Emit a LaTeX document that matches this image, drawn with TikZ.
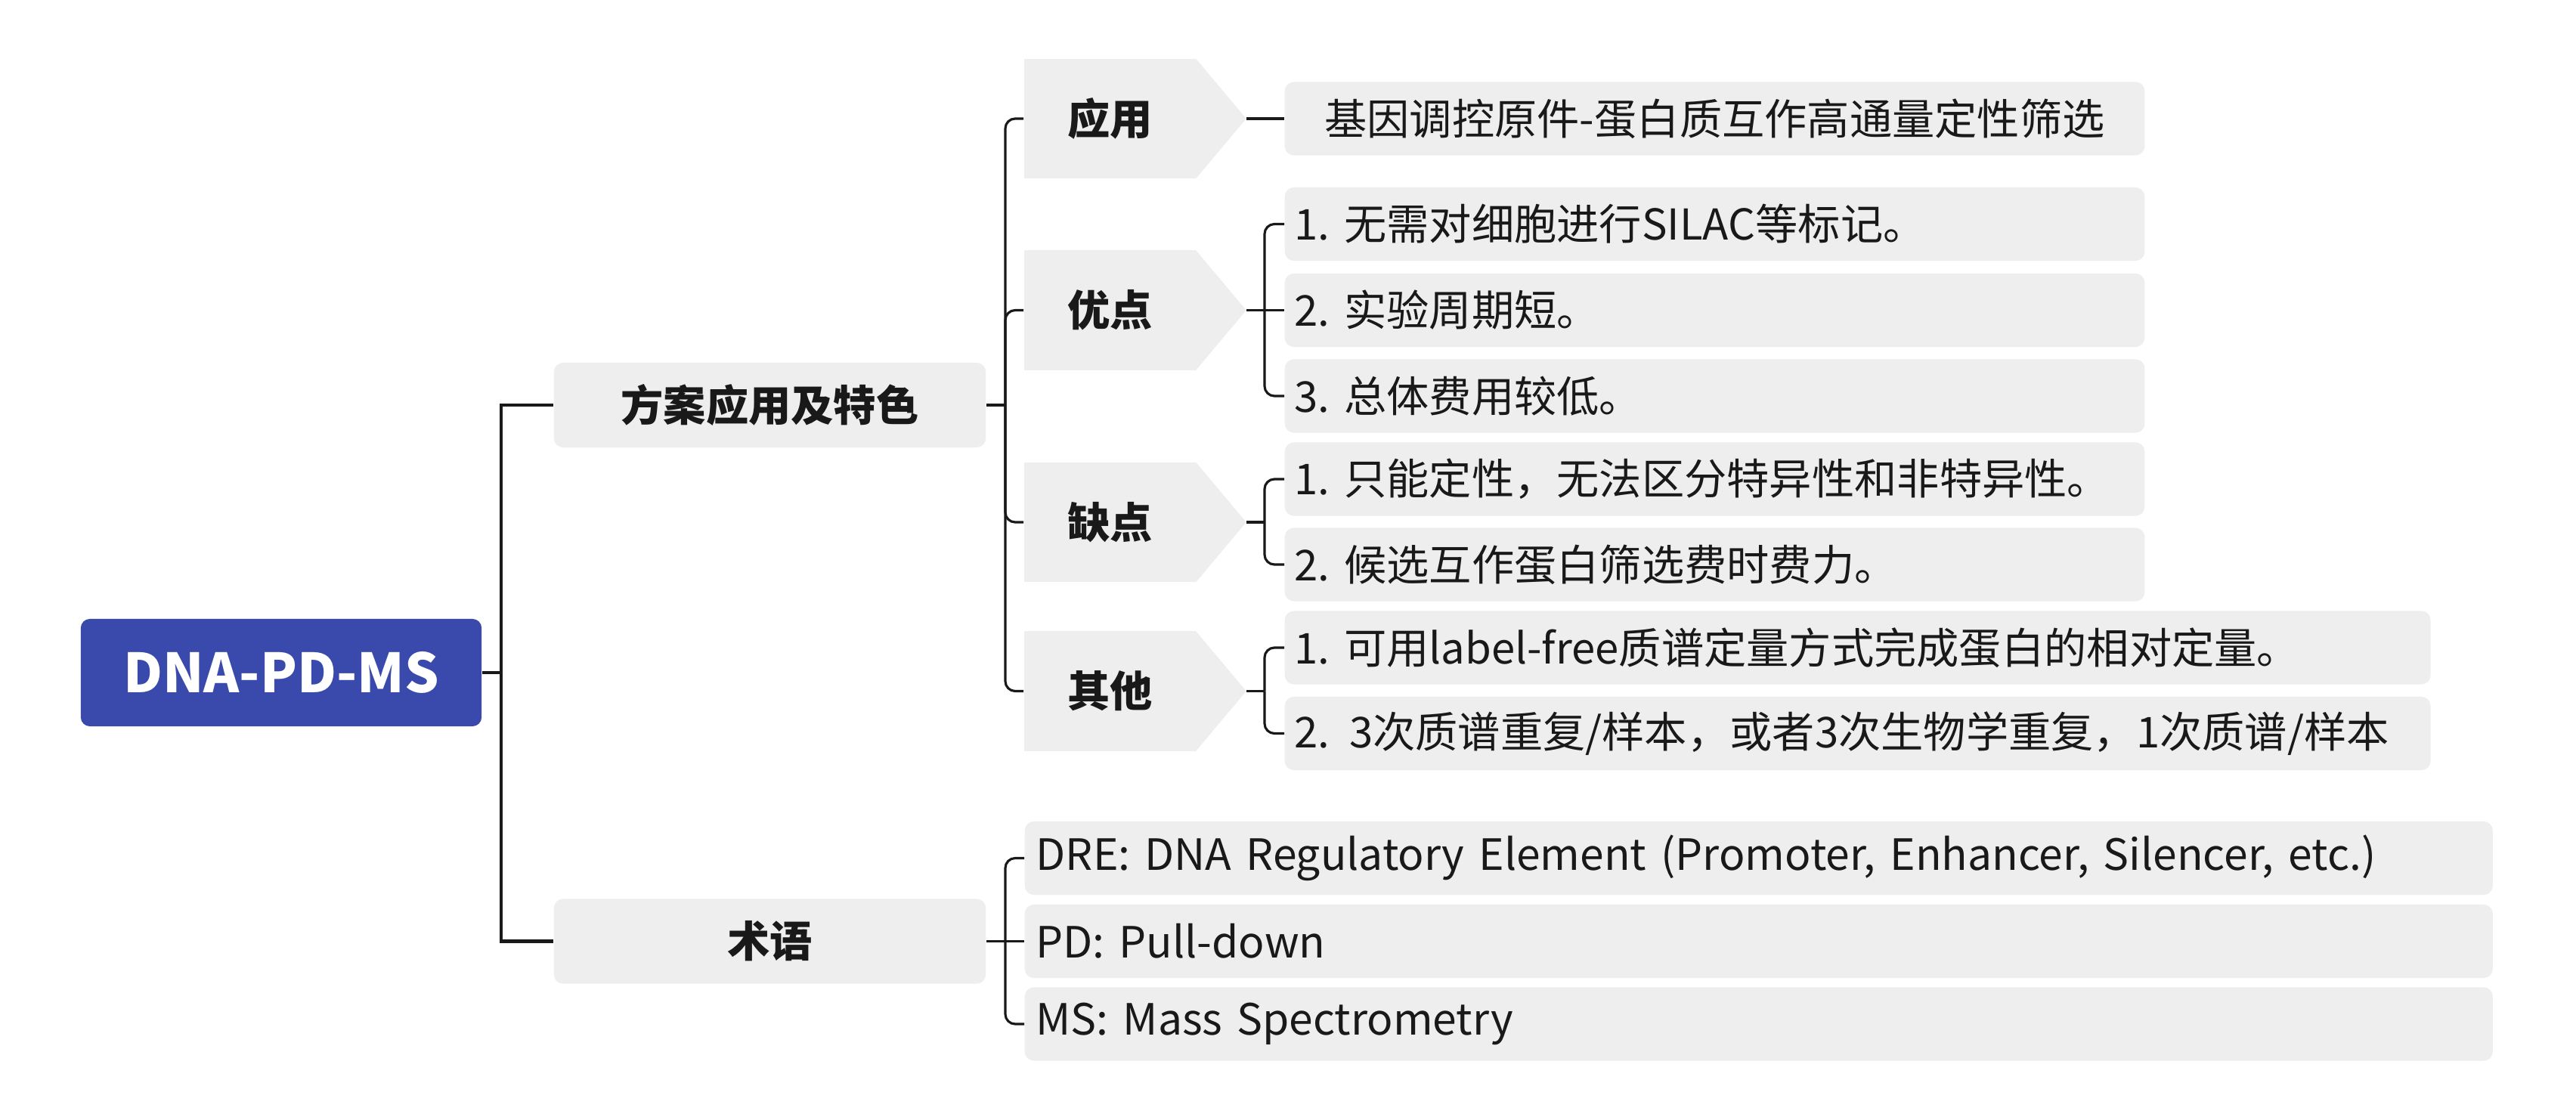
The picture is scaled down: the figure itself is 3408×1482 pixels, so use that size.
\documentclass[tikz,border=0pt]{standalone}
\usepackage{fontspec}
\setmainfont{Noto Sans CJK SC}
\usetikzlibrary{calc}
\definecolor{rootblue}{RGB}{58,74,172}
\definecolor{boxgray}{RGB}{238,238,238}
\definecolor{ink}{RGB}{25,25,25}
\frenchspacing
\begin{document}
\begin{tikzpicture}[x=0.01cm,y=-0.01cm,
  rootbox/.style={fill=rootblue, rounded corners=0.12cm, text=white, font=\fontsize{20.3pt}{24pt}\selectfont\bfseries, minimum width=5.30cm, minimum height=1.42cm, inner sep=0pt},
  mainbox/.style={fill=boxgray, rounded corners=0.12cm, text=ink, font=\fontsize{16pt}{19pt}\selectfont\bfseries, minimum width=5.71cm, minimum height=1.12cm, inner sep=0pt},
  tagbox/.style={fill=boxgray, text=ink, font=\fontsize{16pt}{19pt}\selectfont\bfseries, minimum width=2.27cm, minimum height=1.58cm, inner sep=0pt},
  leafbox/.style={fill=boxgray, rounded corners=0.12cm, text=ink, font=\fontsize{16pt}{19pt}\selectfont\frenchspacing, minimum height=0.97cm, inner xsep=0.13cm, inner ysep=0pt, align=left, anchor=west},
  rootline/.style={line width=1.4pt, draw=ink},
  branch/.style={line width=0.9pt, draw=ink, rounded corners=0.13cm},
]
\useasboundingbox (0,0) rectangle (3408,1482);
\fill[white] (0,0) rectangle (3408,1482);

% root and main branches
\node[rootbox] (root) at (372,890) {DNA-PD-MS};
\node[mainbox] (plan) at (1018.5,536) {方案应用及特色};
\node[mainbox] (term) at (1018.5,1245.5) {术语};

% tag (arrow) nodes
\node[tagbox] (app) at (1468.5,157) {应用};
\node[tagbox] (adv) at (1468.5,410.5) {优点};
\node[tagbox] (dis) at (1468.5,691) {缺点};
\node[tagbox] (oth) at (1468.5,914.5) {其他};
\foreach \t in {app,adv,dis,oth}{
  \fill[boxgray] ($(\t.north east)+(-1,0)$) -- ($(\t.east)+(66,0)$) -- ($(\t.south east)+(-1,0)$) -- cycle;
  \coordinate (\t-tip) at ($(\t.east)+(66,0)$);
}

% leaves
\node[leafbox, text width=11.11cm, align=center] (app1) at (1699,157) {基因调控原件-蛋白质互作高通量定性筛选};
\node[leafbox, text width=11.11cm] (adv1) at (1699,296.5) {1. 无需对细胞进行SILAC等标记。};
\node[leafbox, text width=11.11cm] (adv2) at (1699,410.5) {2. 实验周期短。};
\node[leafbox, text width=11.11cm] (adv3) at (1699,524) {3. 总体费用较低。};
\node[leafbox, text width=11.11cm] (dis1) at (1699,634) {1. 只能定性，无法区分特异性和非特异性。};
\node[leafbox, text width=11.11cm] (dis2) at (1699,747) {2. 候选互作蛋白筛选费时费力。};
\node[leafbox, text width=14.89cm] (oth1) at (1699,857) {1. 可用label-free质谱定量方式完成蛋白的相对定量。};
\node[leafbox, text width=14.89cm] (oth2) at (1699,970.5) {2. \hspace{0.12em}3次质谱重复/样本，或者3次生物学重复，1次质谱/样本};
\node[leafbox, text width=19.11cm, inner xsep=0.15cm, font=\fontsize{16.2pt}{19pt}\selectfont] (t1) at (1355,1135.5) {DRE: DNA Regulatory Element (Promoter, Enhancer, Silencer, etc.)};
\node[leafbox, text width=19.11cm, inner xsep=0.15cm, font=\fontsize{16.2pt}{19pt}\selectfont] (t2) at (1355,1245.5) {PD: Pull-down};
\node[leafbox, text width=19.11cm, inner xsep=0.15cm, font=\fontsize{16.2pt}{19pt}\selectfont] (t3) at (1355,1355) {MS: Mass Spectrometry};

% root connectors
\draw[rootline] (root.east) -- (663,890) coordinate (rj);
\draw[rootline] (rj) |- (plan.west);
\draw[rootline] (rj) |- (term.west);

% plan connectors
\draw[branch] (plan.east) -- (1330,536) coordinate (pj);
\draw[branch] (pj) |- (app.west);
\draw[branch] (pj) |- (adv.west);
\draw[branch] (pj) |- (dis.west);
\draw[branch] (pj) |- (oth.west);

% tag to leaves
\draw[branch] (app-tip) -- (app1.west);
\draw[branch] (adv-tip) -- (1673,410.5) coordinate (aj);
\draw[branch] (aj) |- (adv1.west);
\draw[branch] (aj) -- (adv2.west);
\draw[branch] (aj) |- (adv3.west);
\draw[branch] (dis-tip) -- (1673,691) coordinate (dj);
\draw[branch] (dj) |- (dis1.west);
\draw[branch] (dj) |- (dis2.west);
\draw[branch] (oth-tip) -- (1673,914.5) coordinate (oj);
\draw[branch] (oj) |- (oth1.west);
\draw[branch] (oj) |- (oth2.west);

% term connectors
\draw[branch] (term.east) -- (1330,1245.5) coordinate (tj);
\draw[branch] (tj) |- (t1.west);
\draw[branch] (tj) -- (t2.west);
\draw[branch] (tj) |- (t3.west);
\end{tikzpicture}
\end{document}
